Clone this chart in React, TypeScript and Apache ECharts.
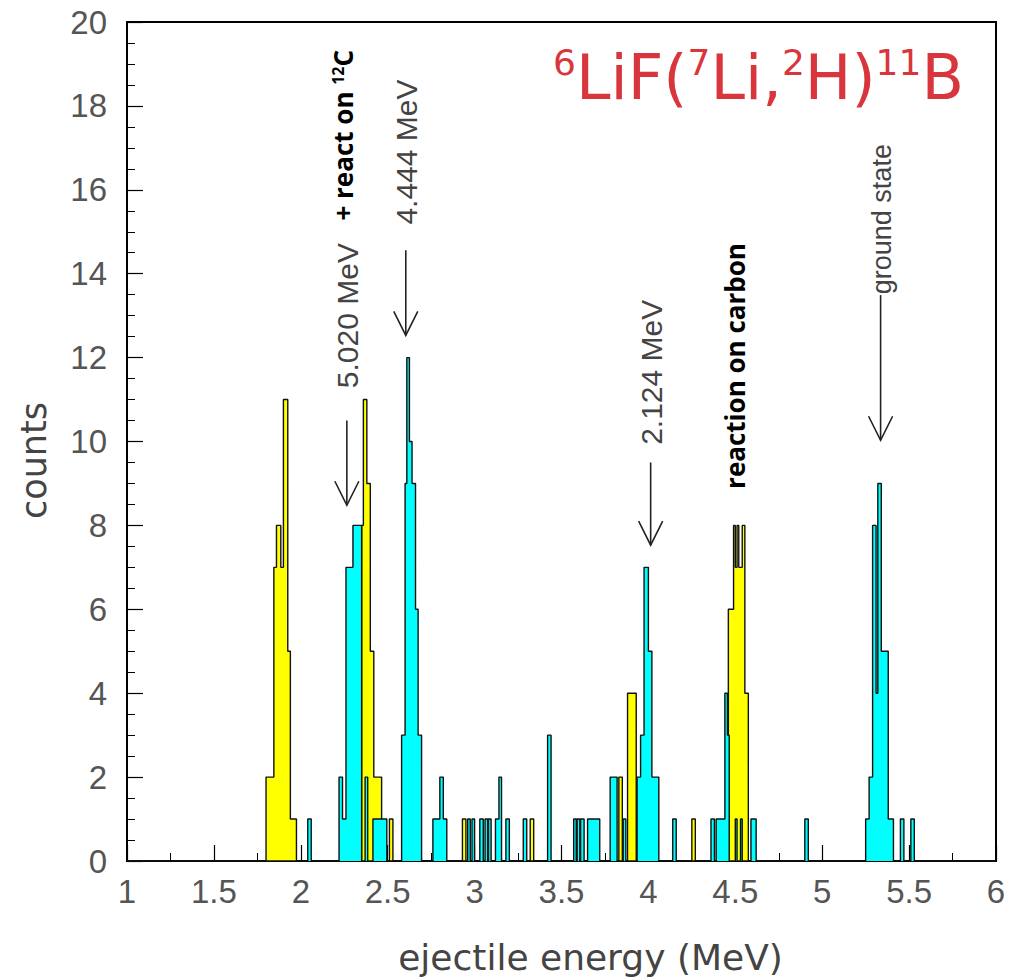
import React, { useEffect, useRef } from "react";
import * as echarts from "echarts";

// ---- data: histogram segments [startMeV, endMeV, counts] ----
const yellowBins: [number, number, number][] = [
  [1.8, 1.845, 2], [1.845, 1.86, 7], [1.86, 1.885, 8], [1.885, 1.9, 7], [1.9, 1.925, 11], [1.925, 1.94, 5], [1.94, 1.975, 1],
  [2.35, 2.36, 8], [2.36, 2.38, 11], [2.38, 2.4, 9], [2.4, 2.42, 5], [2.42, 2.465, 2],
  [2.51, 2.53, 1],
  [2.93, 2.95, 1],
  [3.32, 3.34, 1],
  [3.83, 3.85, 2],
  [3.88, 3.93, 4],
  [4.25, 4.27, 1],
  [4.46, 4.49, 6], [4.49, 4.5, 8], [4.5, 4.51, 7], [4.51, 4.52, 8], [4.52, 4.54, 7], [4.54, 4.555, 8], [4.555, 4.575, 4],
];

const cyanBins: [number, number, number][] = [
  [2.04, 2.06, 1],
  [2.22, 2.24, 2], [2.24, 2.26, 1], [2.26, 2.3, 7], [2.3, 2.35, 8],
  [2.37, 2.385, 2],
  [2.415, 2.495, 1],
  [2.58, 2.6, 3], [2.6, 2.61, 9], [2.61, 2.625, 12], [2.625, 2.64, 10], [2.64, 2.66, 9], [2.66, 2.675, 6], [2.675, 2.695, 3],
  [2.76, 2.8, 1], [2.8, 2.82, 2], [2.82, 2.84, 1],
  [2.96, 2.975, 1], [2.985, 3.0, 1],
  [3.03, 3.05, 1], [3.06, 3.075, 1], [3.08, 3.095, 1], [3.12, 3.14, 1], [3.14, 3.155, 2], [3.18, 3.2, 1],
  [3.28, 3.3, 1],
  [3.42, 3.44, 3],
  [3.57, 3.585, 1], [3.59, 3.605, 1], [3.61, 3.63, 1], [3.65, 3.72, 1],
  [3.78, 3.82, 2], [3.855, 3.87, 1],
  [3.935, 3.955, 2], [3.955, 3.975, 3], [3.975, 4.0, 7], [4.0, 4.02, 5], [4.02, 4.06, 2],
  [4.14, 4.16, 1], [4.36, 4.38, 1], [4.39, 4.44, 1], [4.44, 4.455, 4], [4.455, 4.465, 3],
  [4.5, 4.51, 1], [4.53, 4.54, 1], [4.59, 4.62, 1],
  [4.9, 4.92, 1],
  [5.25, 5.27, 1], [5.27, 5.29, 2], [5.29, 5.31, 8], [5.31, 5.32, 4], [5.32, 5.34, 9], [5.34, 5.38, 5], [5.38, 5.41, 1],
  [5.45, 5.47, 1], [5.51, 5.53, 1],
];

// annotations: [energy, arrowTopCount, arrowTipCount, label, labelCenterCount, fontSize]
const arrowNotes: [number, number, number, string, number, number][] = [
  [2.265, 10.5, 8.48, "5.020 MeV", 13.0, 30],
  [2.604, 14.56, 12.53, "4.444 MeV", 16.9, 30],
  [4.013, 9.5, 7.53, "2.124 MeV", 11.65, 30],
  [5.336, 13.49, 10.03, "ground state", 15.3, 27],
];
const boldNotes: [number, number, string][] = [
  [2.24, 17.3, "+ react on {sup|12}C"],
  [4.5, 11.8, "reaction on carbon"],
];

const FONT = "Liberation Sans";
const TITLE_FONT = "DejaVu Sans";

function toStepPoints(segs: [number, number, number][]): [number, number][] {
  const sorted = [...segs].sort((a, b) => a[0] - b[0]);
  const pts: [number, number][] = [[1, 0]];
  let prevEnd: number | null = null;
  for (const [x0, x1, c] of sorted) {
    if (prevEnd !== null && Math.abs(x0 - prevEnd) > 1e-9) pts.push([prevEnd, 0]);
    pts.push([x0, c]);
    prevEnd = x1;
  }
  if (prevEnd !== null) pts.push([prevEnd, 0]);
  pts.push([6, 0]);
  return pts;
}

export default function App() {
  const ref = useRef<HTMLDivElement>(null);
  useEffect(() => {
    if (!ref.current) return;
    const chart = echarts.init(ref.current, undefined, { renderer: "svg" });
    const histSeries = (name: string, segs: [number, number, number][], fill: string, z: number) => ({
      name,
      type: "line",
      step: "end",
      data: toStepPoints(segs),
      symbol: "none",
      z,
      lineStyle: { color: "#111", width: 1.4 },
      areaStyle: { color: fill, opacity: 1 },
    });
    chart.setOption({
      animation: false,
      backgroundColor: "#ffffff",
      grid: {
        left: 127,
        top: 22,
        right: 19,
        bottom: 119,
        show: true,
        borderColor: "#000",
        borderWidth: 2,
        backgroundColor: "transparent",
      },
      xAxis: {
        type: "value",
        min: 1,
        max: 6,
        interval: 0.5,
        name: "ejectile energy (MeV)",
        nameLocation: "middle",
        nameGap: 78,
        nameTextStyle: { fontFamily: TITLE_FONT, fontSize: 36, color: "#444", padding: [0, 0, 0, 58] },
        axisLine: { lineStyle: { color: "#000", width: 2 } },
        axisTick: { inside: true, length: 16, lineStyle: { color: "#000", width: 1.2 } },
        minorTick: { show: true, splitNumber: 2, length: 8, lineStyle: { color: "#000", width: 1 } },
        axisLabel: { fontFamily: FONT, fontSize: 33, color: "#555", margin: 14 },
        splitLine: { show: false },
      },
      yAxis: {
        type: "value",
        min: 0,
        max: 20,
        interval: 2,
        name: "counts",
        nameLocation: "middle",
        nameRotate: 90,
        nameGap: 76,
        nameTextStyle: { fontFamily: TITLE_FONT, fontSize: 35, color: "#444", padding: [0, 38, 0, 0] },
        axisLine: { show: true, lineStyle: { color: "#000", width: 2 } },
        axisTick: { show: true, inside: true, length: 16, lineStyle: { color: "#000", width: 1.2 } },
        minorTick: { show: true, splitNumber: 4, length: 8, lineStyle: { color: "#000", width: 1 } },
        axisLabel: { fontFamily: FONT, fontSize: 33, color: "#555", margin: 20 },
        splitLine: { show: false },
      },
      series: [
        histSeries("yellow", yellowBins, "#ffff00", 2),
        histSeries("cyan", cyanBins, "#00ffff", 3),
      ],
    });

    const px = (x: number, y: number) => chart.convertToPixel({ gridIndex: 0 }, [x, y]) as number[];
    const graphics: any[] = [];
    for (const [e, top, tip, label, lc, fs] of arrowNotes) {
      const a = px(e, top);
      const b = px(e, tip);
      const c = px(e, lc);
      graphics.push({
        type: "line",
        shape: { x1: a[0], y1: a[1], x2: b[0], y2: b[1] },
        style: { stroke: "#222", lineWidth: 1.6 },
      });
      graphics.push({
        type: "polyline",
        shape: { points: [[b[0] - 12, b[1] - 24], [b[0], b[1]], [b[0] + 12, b[1] - 24]] },
        style: { stroke: "#222", lineWidth: 1.6, fill: "none" },
      });
      graphics.push({
        type: "text",
        x: c[0] + 1,
        y: c[1],
        rotation: Math.PI / 2,
        style: {
          text: label,
          font: `${fs}px '${FONT}'`,
          fill: "#444",
          align: "center",
          verticalAlign: "middle",
        },
      });
    }
    for (const [e, yc, label] of boldNotes) {
      const c = px(e, yc);
      graphics.push({
        type: "text",
        x: c[0],
        y: c[1],
        rotation: Math.PI / 2,
        style: {
          text: label,
          fontFamily: "Open Sans",
          fontWeight: "bold",
          fontSize: 26,
          fill: "#000",
          align: "center",
          verticalAlign: "middle",
          rich: {
            sup: { fontFamily: "Open Sans", fontWeight: "bold", fontSize: 16, verticalAlign: "top", fill: "#000" },
          },
        },
      });
    }
    graphics.push({
      type: "text",
      x: 553,
      y: 77,
      style: {
        text: "{s|6}LiF({s|7}Li,{s|2}H){s|11}B",
        fontFamily: TITLE_FONT,
        fontSize: 62,
        fill: "#d8363c",
        align: "left",
        verticalAlign: "middle",
        rich: {
          s: { fontFamily: TITLE_FONT, fontSize: 36, fill: "#d8363c", verticalAlign: "top", lineHeight: 66 },
        },
      },
    });
    chart.setOption({ graphic: graphics });

    return () => chart.dispose();
  }, []);
  return (
    <div
      ref={ref}
      style={{ position: "absolute", left: 0, top: 0, width: 1015, height: 980, background: "#fff" }}
    />
  );
}
